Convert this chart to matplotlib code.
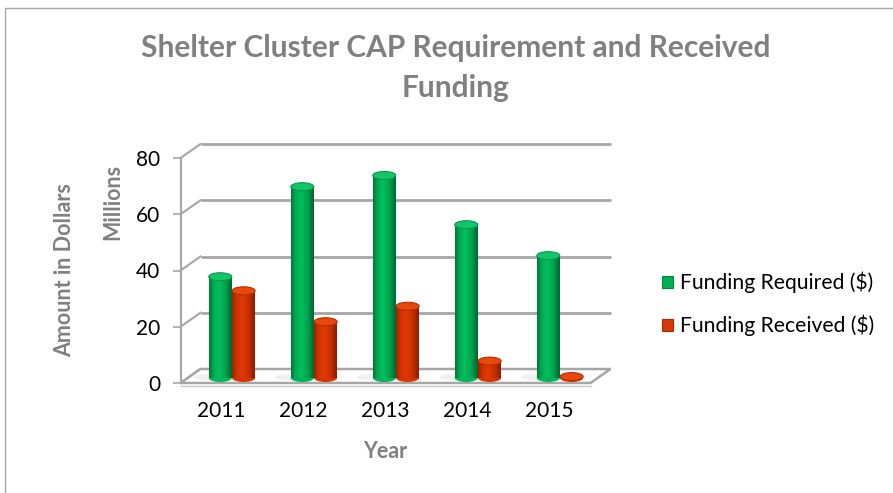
import numpy as np
import matplotlib
matplotlib.use("Agg")
import matplotlib.pyplot as plt
from matplotlib.colors import LinearSegmentedColormap
from matplotlib.patches import Ellipse, Rectangle, Polygon
from matplotlib.transforms import ScaledTranslation

plt.rcParams['font.family'] = ['Lato', 'DejaVu Sans']

# ---------------- data ----------------
years = ["2011", "2012", "2013", "2014", "2015"]
funding_required = [36.0, 68.0, 72.0, 54.5, 43.5]   # millions $
funding_received = [31.0, 20.0, 25.5, 6.0, 0.5]     # millions $
y_ticks = [0, 20, 40, 60, 80]
series_labels = ["Funding Required ($)", "Funding Received ($)"]
title = "Shelter Cluster CAP Requirement and Received\nFunding"

W, H = 893, 493
fig = plt.figure(figsize=(W / 100, H / 100), dpi=100)
fig.patch.set_facecolor("white")

# outer chart border
fig.add_artist(Rectangle((5 / W, -0.05), 1.2, 1 - 8 / H + 0.05, transform=fig.transFigure,
                         fill=False, edgecolor="#a6a6a6", lw=1.0))

ax = fig.add_axes([180.5 / W, 1 - 383 / H, 410 / W, 225 / H])
ax.set_xlim(-0.5, 4.5)
ax.set_ylim(0, 80)
ax.patch.set_alpha(0)

grid_c = "#a6a6a6"
# back-wall offset in data units (pseudo 3D depth)
ddx, ddy = 20 / 82.0, 14 / 2.8125

# back wall grid lines + diagonals from the front axis
for v in y_ticks:
    if v > 0:
        ax.plot([-0.5 + ddx, 4.5 + ddx], [v + ddy, v + ddy], color=grid_c, lw=2.0,
                clip_on=False, zorder=1, solid_capstyle="butt")
    ax.plot([-0.5, -0.5 + ddx], [v, v + ddy], color=grid_c, lw=1.5, clip_on=False, zorder=1)

# floor
floor = Polygon([[-0.5, 0], [4.5, 0], [4.5 + ddx, ddy], [-0.5 + ddx, ddy]], closed=True,
                facecolor="white", edgecolor=grid_c, lw=1.8, clip_on=False, zorder=1.5)
ax.add_patch(floor)
ax.plot([-0.5, 4.5], [-0.9, -0.9], color="#c8c8c8", lw=1.0, clip_on=False, zorder=1.4)

# cylinders
bar_tr = ax.transData + ScaledTranslation(0, 0.05, fig.dpi_scale_trans)
green_cmap = LinearSegmentedColormap.from_list(
    "g", [(0, "#00763a"), (0.18, "#00a650"), (0.42, "#00c25e"), (0.72, "#00a34e"), (1, "#006630")])
red_cmap = LinearSegmentedColormap.from_list(
    "r", [(0, "#9a2400"), (0.18, "#c93100"), (0.42, "#e23b02"), (0.72, "#c83000"), (1, "#8a1e00")])
grad = np.linspace(0, 1, 64).reshape(1, -1)

width = 0.28
x = np.arange(len(years))
ell_h = 8 / 2.8125

def cylinders(xpos, vals, cmap, top_c, rim_c, label):
    bars = ax.bar(xpos, vals, width=width, color=cmap(0.42), transform=bar_tr,
                  zorder=3, label=label, linewidth=0)
    for xi, v, b in zip(xpos, vals, bars):
        # soft floor shadow
        ax.add_patch(Ellipse((xi - width * 0.45, 0.3), width * 1.5, ell_h * 0.8,
                             facecolor="#e6e6e6", edgecolor="none", alpha=0.6,
                             transform=bar_tr, zorder=2.5))
        # bottom rounding
        ax.add_patch(Ellipse((xi, 0), width, ell_h, facecolor=cmap(0.3), edgecolor="none",
                             transform=bar_tr, zorder=2.9))
        im = ax.imshow(grad, cmap=cmap, aspect="auto", extent=(xi - width / 2, xi + width / 2, 0, v),
                       zorder=3.1, interpolation="bilinear")
        im.set_transform(bar_tr)
        im.set_clip_path(b)
        ax.add_patch(Ellipse((xi, v), width, ell_h, facecolor=top_c, edgecolor=rim_c, lw=0.8,
                             transform=bar_tr, zorder=3.2))
    return bars

cylinders(x - 0.015, funding_required, green_cmap, "#14c468", "#009848", series_labels[0])
cylinders(x + 0.27, funding_received, red_cmap, "#e8480c", "#b82a00", series_labels[1])

ax.set_xlim(-0.5, 4.5)
ax.set_ylim(0, 80)

# axes styling
for s in ["top", "right", "bottom"]:
    ax.spines[s].set_visible(False)
ax.spines["left"].set_color(grid_c)
ax.spines["left"].set_linewidth(1.5)
ax.set_yticks(y_ticks)
ax.set_yticklabels([str(v) for v in y_ticks])
ax.set_xticks(x)
ax.set_xticklabels(years)
ax.tick_params(axis="y", length=5.5, width=1.2, color=grid_c, pad=9, labelsize=15, labelcolor="black")
ax.tick_params(axis="x", length=0, pad=13, labelsize=15, labelcolor="black")

# texts
gray_t = "#808080"
fig.text(456 / W, 1 - 68 / H, title, ha="center", va="center", fontsize=21.5,
         fontweight="bold", color=gray_t, linespacing=1.55)
fig.text(113 / W, 1 - 202 / H, "Millions", rotation=90, ha="center", va="center",
         fontsize=15.5, fontweight="bold", color=gray_t)
fig.text(65 / W, 1 - 270 / H, "Amount in Dollars", rotation=90, ha="center", va="center",
         fontsize=15.5, fontweight="bold", color=gray_t)
fig.text(385 / W, 1 - 451 / H, "Year", ha="center", va="center",
         fontsize=15.5, fontweight="bold", color=gray_t)

# legend
handles = [Rectangle((0, 0), 1, 1, facecolor="#00b050", edgecolor="#008a3e", lw=0.8),
           Rectangle((0, 0), 1, 1, facecolor="#d53a08", edgecolor="#a82a00", lw=0.8)]
fig.legend(handles, series_labels, loc="center left", bbox_to_anchor=(654 / W, 1 - 304 / H),
           frameon=False, fontsize=15.2, handlelength=0.5, handleheight=0.5,
           handletextpad=0.35, labelspacing=1.0, borderaxespad=0)

fig.savefig("out.png", dpi=100, facecolor="white")
